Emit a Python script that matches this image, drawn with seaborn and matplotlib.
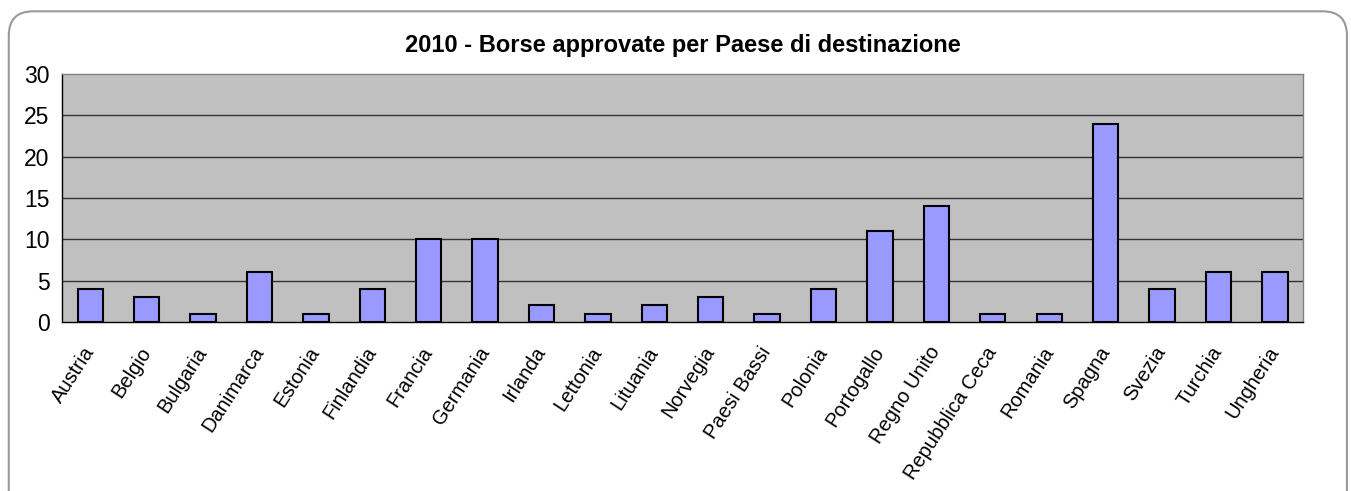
import matplotlib
matplotlib.use("Agg")
import matplotlib.pyplot as plt
from matplotlib.patches import FancyBboxPatch
import seaborn as sns
import pandas as pd

# Data
paesi = ['Austria', 'Belgio', 'Bulgaria', 'Danimarca', 'Estonia', 'Finlandia',
         'Francia', 'Germania', 'Irlanda', 'Lettonia', 'Lituania', 'Norvegia',
         'Paesi Bassi', 'Polonia', 'Portogallo', 'Regno Unito', 'Repubblica Ceca',
         'Romania', 'Spagna', 'Svezia', 'Turchia', 'Ungheria']
borse = [4, 3, 1, 6, 1, 4, 10, 10, 2, 1, 2, 3, 1, 4, 11, 14, 1, 1, 24, 4, 6, 6]
y_ticks = [0, 5, 10, 15, 20, 25, 30]
titolo = '2010 - Borse approvate per Paese di destinazione'

df = pd.DataFrame({'Paese': paesi, 'Borse': borse})

sns.set_style('white')
plt.rcParams['font.family'] = ['Liberation Sans', 'DejaVu Sans']
plt.rcParams['text.color'] = 'black'
plt.rcParams['xtick.color'] = 'black'
plt.rcParams['ytick.color'] = 'black'

fig = plt.figure(figsize=(13.51, 4.91), dpi=100)

# rounded outer border
border = FancyBboxPatch((0.0065, -0.05), 0.9905, 1.027,
                        boxstyle='round,pad=0,rounding_size=0.018',
                        transform=fig.transFigure, facecolor='none',
                        edgecolor='#999999', linewidth=1.5,
                        mutation_aspect=13.51 / 4.91, zorder=-1)
fig.patches.append(border)

ax = fig.add_axes([0.0459, 0.3442, 0.9186, 0.5051])
ax.set_facecolor('#C0C0C0')

sns.barplot(data=df, x='Paese', y='Borse', color='#9999FF', width=0.45,
            edgecolor='black', linewidth=1.5, saturation=1, ax=ax, zorder=3)

ax.set_ylim(0, 30)
ax.set_xlim(-0.5, len(paesi) - 0.5)
ax.set_yticks(y_ticks)
for y in y_ticks[1:-1]:
    ax.axhline(y, color='#333333', linewidth=1, zorder=1)

ax.set_xlabel('')
ax.set_ylabel('')
ax.set_title(titolo, fontsize=17, fontweight='bold', pad=16, color='black')

# category separator ticks
ax.set_xticks([i - 0.5 for i in range(len(paesi) + 1)], minor=False)
ax.set_xticklabels([])
ax.set_xticks(range(len(paesi)), minor=True)
ax.set_xticklabels(paesi, minor=True, rotation=57, ha='right', va='center',
                   rotation_mode='anchor', fontsize=14.5)
ax.tick_params(axis='x', which='major', direction='out', length=6,
               width=1, color='black')
ax.tick_params(axis='x', which='minor', length=0, pad=19)
ax.tick_params(axis='y', direction='out', length=6, width=1,
               color='black', labelsize=16.5, pad=3)

for side in ['top', 'right']:
    ax.spines[side].set_color('#808080')
    ax.spines[side].set_linewidth(1)
for side in ['left', 'bottom']:
    ax.spines[side].set_color('black')
    ax.spines[side].set_linewidth(1)

fig.savefig('out.png', dpi=100)
